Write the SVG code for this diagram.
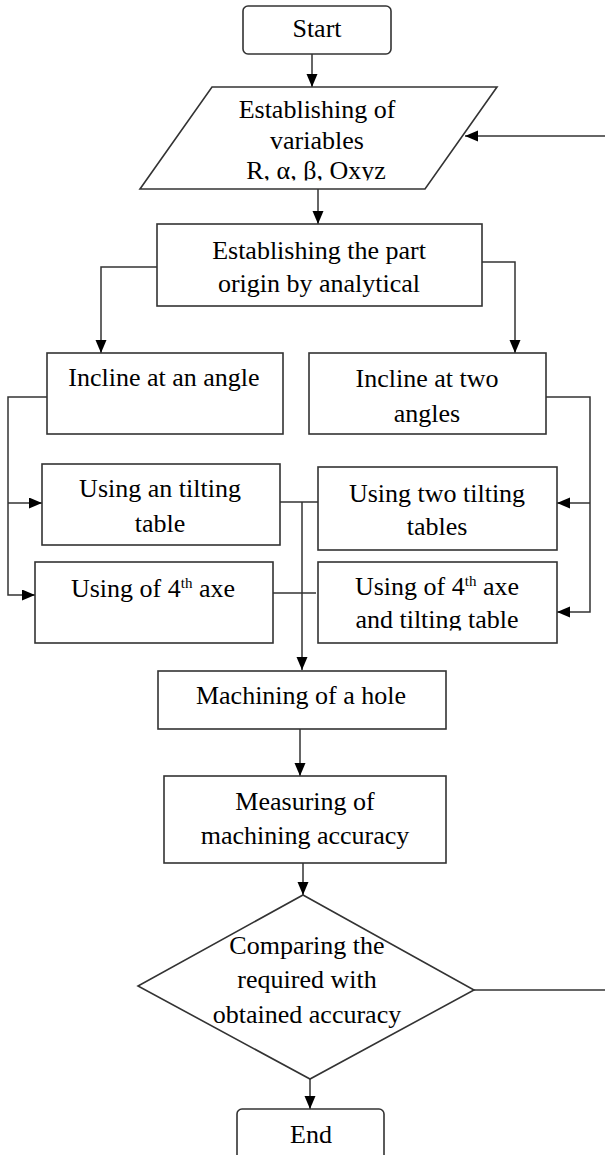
<svg xmlns="http://www.w3.org/2000/svg" width="605" height="1155" viewBox="0 0 605 1155">
<style>
.box{fill:#fff;stroke:#333;stroke-width:1.6}
.ln{fill:none;stroke:#333;stroke-width:1.5}
.t{font-family:"Liberation Serif","Times New Roman",serif;font-size:26px;fill:#000;text-anchor:middle}
.sup{font-size:15px}
</style>
<defs>
<marker id="ah" markerUnits="userSpaceOnUse" markerWidth="14" markerHeight="12" refX="13" refY="5.5" orient="auto">
<path d="M0,0 L13,5.5 L0,11 z" fill="#000"/>
</marker>
<clipPath id="cp1"><rect x="130" y="80" width="380" height="100.5"/></clipPath>
<clipPath id="cp2"><rect x="318" y="560" width="240" height="70.5"/></clipPath>
</defs>
<rect width="605" height="1155" fill="#fff"/>
<g id="connectors">
<path class="ln" d="M312,54 V87" marker-end="url(#ah)"/>
<path class="ln" d="M605,136 H465" marker-end="url(#ah)"/>
<path class="ln" d="M474,990 H605"/>
<path class="ln" d="M318,189 V224" marker-end="url(#ah)"/>
<path class="ln" d="M157,267 H101 V353" marker-end="url(#ah)"/>
<path class="ln" d="M482,262 H515 V353" marker-end="url(#ah)"/>
<path class="ln" d="M47,397 H8 V595 H35" marker-end="url(#ah)"/>
<path class="ln" d="M8,503 H42" marker-end="url(#ah)"/>
<path class="ln" d="M546,397 H590 V612 H557" marker-end="url(#ah)"/>
<path class="ln" d="M590,503 H557" marker-end="url(#ah)"/>
<path class="ln" d="M280,502 H318"/>
<path class="ln" d="M273,593 H316"/>
<path class="ln" d="M302,502 V670" marker-end="url(#ah)"/>
<path class="ln" d="M300,729 V776" marker-end="url(#ah)"/>
<path class="ln" d="M303,863 V895" marker-end="url(#ah)"/>
<path class="ln" d="M310,1079 V1109" marker-end="url(#ah)"/>
</g>
<g id="start">
<rect class="box" x="243" y="6" width="148" height="48" rx="5"/>
<text class="t" x="317" y="37">Start</text>
</g>
<g id="variables">
<polygon class="box" points="212,87 497,87 425,189 140,189"/>
<text class="t" x="317" y="118">Establishing  of</text>
<text class="t" x="317" y="149">variables</text>
<text class="t" x="316" y="179" clip-path="url(#cp1)">R, α, β, Oxyz</text>
</g>
<g id="origin">
<rect class="box" x="157" y="224" width="325" height="82"/>
<text class="t" x="319" y="259">Establishing  the part</text>
<text class="t" x="319" y="292">origin  by analytical</text>
</g>
<g id="incline1">
<rect class="box" x="47" y="353" width="236" height="81"/>
<text class="t" x="164" y="386">Incline at an angle</text>
</g>
<g id="incline2">
<rect class="box" x="309" y="353" width="237" height="81"/>
<text class="t" x="427" y="387">Incline at two</text>
<text class="t" x="427" y="422">angles</text>
</g>
<g id="tilt1">
<rect class="box" x="42" y="464" width="238" height="81"/>
<text class="t" x="160" y="497">Using an tilting</text>
<text class="t" x="160" y="532">table</text>
</g>
<g id="tilt2">
<rect class="box" x="318" y="467" width="239" height="83"/>
<text class="t" x="437" y="502">Using two tilting</text>
<text class="t" x="437" y="535">tables</text>
</g>
<g id="axe4">
<rect class="box" x="35" y="562" width="238" height="81"/>
<text class="t" x="153" y="597">Using of 4<tspan class="sup" dy="-9">th</tspan><tspan dy="9"> axe</tspan></text>
</g>
<g id="axe4tilt">
<rect class="box" x="318" y="562" width="239" height="81"/>
<text class="t" x="437" y="595">Using of 4<tspan class="sup" dy="-9">th</tspan><tspan dy="9"> axe</tspan></text>
<text class="t" x="437" y="628" clip-path="url(#cp2)">and tilting table</text>
</g>
<g id="machining">
<rect class="box" x="158" y="671" width="288" height="58"/>
<text class="t" x="301" y="704">Machining  of a hole</text>
</g>
<g id="measuring">
<rect class="box" x="164" y="776" width="282" height="87"/>
<text class="t" x="305" y="810">Measuring  of</text>
<text class="t" x="305" y="844">machining  accuracy</text>
</g>
<g id="compare">
<polygon class="box" points="303,895 474,990 310,1079 138,986"/>
<text class="t" x="307" y="954">Comparing  the</text>
<text class="t" x="307" y="988">required  with</text>
<text class="t" x="307" y="1023">obtained accuracy</text>
</g>
<g id="end">
<rect class="box" x="237" y="1109" width="147" height="70" rx="5"/>
<text class="t" x="311" y="1143">End</text>
</g>
</svg>
